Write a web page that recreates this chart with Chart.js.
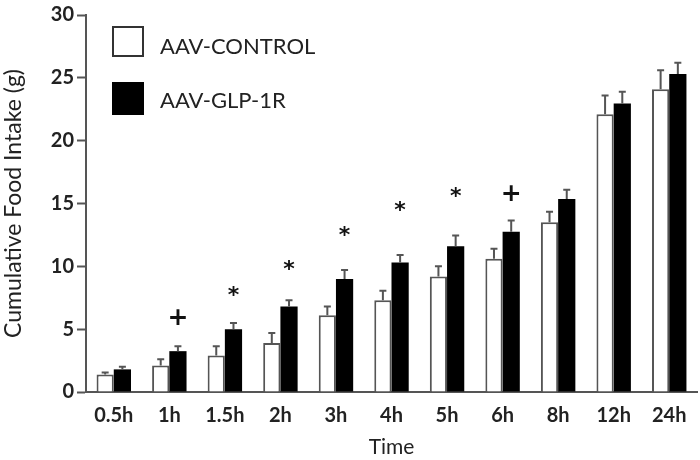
<!DOCTYPE html>
<html>
<head>
<meta charset="utf-8">
<script src="https://cdn.jsdelivr.net/npm/chart.js@4.4.1/dist/chart.umd.min.js"></script>
<style>
html,body{margin:0;padding:0;background:#fff;}
#wrap{width:700px;height:460px;}
</style>
</head>
<body>
<div id="wrap"><canvas id="c" width="700" height="460"></canvas></div>
<script>
const categories = ['0.5h','1h','1.5h','2h','3h','4h','5h','6h','8h','12h','24h'];
const controlValues = [1.4, 2.1, 2.9, 3.9, 6.1, 7.3, 9.2, 10.6, 13.5, 22.1, 24.1];
const controlErrors = [0.15, 0.5, 0.75, 0.8, 0.7, 0.75, 0.8, 0.8, 0.85, 1.5, 1.5];
const glpValues = [1.8, 3.25, 5.0, 6.8, 9.0, 10.3, 11.6, 12.75, 15.35, 22.95, 25.3];
const glpErrors = [0.2, 0.4, 0.5, 0.5, 0.7, 0.6, 0.85, 0.9, 0.75, 0.95, 0.9];
const markerSymbols = ['', '+', '*', '*', '*', '*', '*', '+', '', '', ''];
const markerValues = [null, 5.9, 8.05, 10.1, 12.75, 14.8, 15.9, 15.8, null, null, null];
const yTicks = [0, 5, 10, 15, 20, 25, 30];
const seriesNames = ['AAV-CONTROL', 'AAV-GLP-1R'];

const errorsBySeries = [controlErrors, glpErrors];

const extrasPlugin = {
  id: 'extras',
  afterDatasetsDraw(chart) {
    const ctx = chart.ctx;
    const y = chart.scales.y;
    ctx.save();
    ctx.strokeStyle = '#555';
    ctx.lineWidth = 2;
    chart.data.datasets.forEach((ds, di) => {
      const meta = chart.getDatasetMeta(di);
      meta.data.forEach((bar, i) => {
        const v = ds.data[i];
        const e = errorsBySeries[di][i];
        const x = bar.x;
        const y0 = y.getPixelForValue(v);
        const y1 = y.getPixelForValue(v + e);
        ctx.beginPath();
        ctx.moveTo(x, y0);
        ctx.lineTo(x, y1);
        ctx.moveTo(x - 3.5, y1);
        ctx.lineTo(x + 3.5, y1);
        ctx.stroke();
      });
    });
    const glpMeta = chart.getDatasetMeta(1);
    ctx.fillStyle = '#111';
    ctx.textAlign = 'center';
    ctx.textBaseline = 'middle';
    markerSymbols.forEach((s, i) => {
      if (!s || markerValues[i] == null) return;
      const x = glpMeta.data[i].x;
      const py = y.getPixelForValue(markerValues[i]);
      if (s === '+') {
        ctx.font = 'bold 25px "DejaVu Sans"';
        ctx.fillText('+', x, py + 1);
      } else {
        ctx.font = 'bold 22px "DejaVu Sans"';
        ctx.fillText('*', x, py + 5);
      }
    });
    ctx.lineWidth = 2;
    ctx.strokeStyle = '#333';
    ctx.fillStyle = '#fff';
    ctx.fillRect(113, 27, 30, 29);
    ctx.strokeRect(113, 27, 30, 29);
    ctx.fillStyle = '#000';
    ctx.fillRect(112, 82, 32, 33);
    ctx.font = '22px Lato';
    ctx.textAlign = 'left';
    ctx.fillStyle = '#222';
    ctx.fillText(seriesNames[0], 160, 47);
    ctx.fillText(seriesNames[1], 160, 101);
    ctx.restore();
  }
};

new Chart(document.getElementById('c'), {
  type: 'bar',
  data: {
    labels: categories,
    datasets: [
      { label: seriesNames[0], data: controlValues, backgroundColor: '#fff', borderColor: '#555', borderWidth: 2, borderSkipped: 'bottom' },
      { label: seriesNames[1], data: glpValues, backgroundColor: '#000', borderColor: '#000', borderWidth: 0 }
    ]
  },
  options: {
    responsive: false,
    animation: false,
    layout: { padding: { top: 12, right: 3, left: 0, bottom: 0 } },
    plugins: { legend: { display: false }, tooltip: { enabled: false } },
    datasets: { bar: { barPercentage: 1.0, categoryPercentage: 0.62 } },
    scales: {
      x: {
        grid: { display: false },
        border: { display: true, color: '#555', width: 2 },
        ticks: { color: '#222', font: { family: 'Lato', size: 20, weight: 'bold' }, padding: 4, maxRotation: 0 },
        title: { display: true, text: 'Time', color: '#222', font: { family: 'Lato', size: 21 }, padding: { top: 0, bottom: 0 } },
        afterFit(s) { s.height = 68; }
      },
      y: {
        min: 0, max: 30,
        afterBuildTicks(s) { s.ticks = yTicks.map(v => ({ value: v })); },
        grid: { display: true, drawOnChartArea: false, drawTicks: true, tickLength: 9, tickColor: '#555', tickWidth: 2 },
        border: { display: true, color: '#555', width: 2 },
        ticks: { color: '#222', font: { family: 'Lato', size: 20, weight: 'bold' }, padding: 3 },
        title: { display: true, text: 'Cumulative Food Intake (g)', color: '#222', font: { family: 'Lato', size: 23 }, padding: { top: 0, bottom: 0 } },
        afterFit(s) { s.width = 86; }
      }
    }
  },
  plugins: [extrasPlugin]
});
</script>
</body>
</html>
